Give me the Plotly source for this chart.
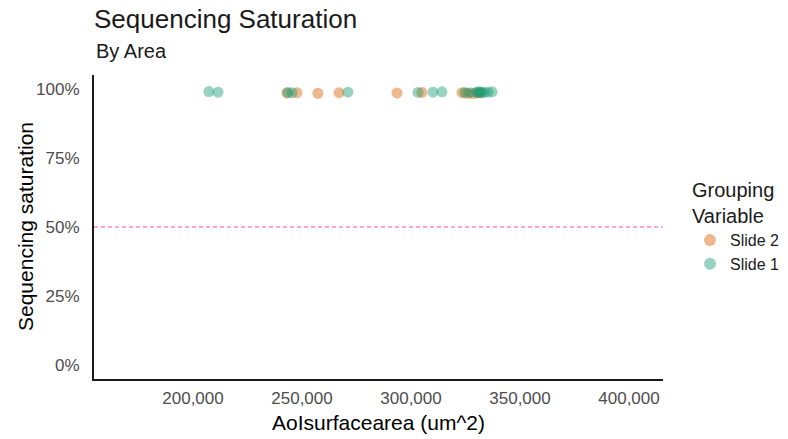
import plotly.graph_objects as go

# AOI surface area (um^2) and sequencing saturation per slide
slide2_area = [243100, 247700, 257300, 267000, 293600, 305000, 323400, 325700, 328400, 330500, 332000]
slide2_sat = [0.985, 0.986, 0.984, 0.986, 0.985, 0.987, 0.986, 0.984, 0.983, 0.985, 0.986]

slide1_area = [207300, 211500, 243500, 245400, 271100, 303200, 310100, 314200, 324700, 327100,
               330000, 331000, 331500, 332500, 333500, 335300, 337200]
slide1_sat = [0.990, 0.988, 0.987, 0.986, 0.988, 0.987, 0.988, 0.989, 0.987, 0.986,
              0.988, 0.987, 0.989, 0.986, 0.988, 0.988, 0.989]

threshold = 0.5
y_ticks = [0, 0.25, 0.5, 0.75, 1.0]
y_labels = ["0%", "25%", "50%", "75%", "100%"]
x_ticks = [200000, 250000, 300000, 350000, 400000]
x_labels = ["200,000", "250,000", "300,000", "350,000", "400,000"]

font = "Liberation Sans, Arial, sans-serif"

W, H = 788, 439
L, R, T, B = 94, 125, 75, 60
plot_w = W - L - R
plot_h = H - T - B

fig = go.Figure()
fig.add_trace(go.Scatter(
    x=slide2_area, y=slide2_sat, mode="markers", name="Slide 2",
    marker=dict(color="#D95F02", size=11, opacity=0.45, line=dict(width=0)),
))
fig.add_trace(go.Scatter(
    x=slide1_area, y=slide1_sat, mode="markers", name="Slide 1",
    marker=dict(color="#1B9E77", size=11, opacity=0.45, line=dict(width=0)),
))

fig.add_hline(y=threshold, line=dict(color="#FFA6D6", width=2, dash="4px,3px"))

fig.update_layout(
    width=W, height=H,
    margin=dict(l=L, r=R, t=T, b=B, autoexpand=False),
    paper_bgcolor="white", plot_bgcolor="white",
    font=dict(family=font, color="black"),
    title=dict(text="Sequencing Saturation", x=L / W, xanchor="left",
               y=1 - 19 / H, yanchor="middle", font=dict(size=26, color="#1a1a1a")),
    annotations=[
        dict(text="By Area", xref="paper", yref="paper", x=0, y=1 + (75 - 51) / plot_h,
             xanchor="left", yanchor="middle", showarrow=False,
             font=dict(size=20, color="#1a1a1a")),
        dict(text="Sequencing saturation", xref="paper", yref="paper",
             x=-(94 - 25) / plot_w, y=0.5, textangle=-90,
             xanchor="center", yanchor="middle", showarrow=False,
             font=dict(size=21, color="black")),
        dict(text="AoIsurfacearea (um^2)", xref="paper", yref="paper",
             x=0.5, y=-(422 - 379) / plot_h, xanchor="center", yanchor="middle",
             showarrow=False, font=dict(size=21, color="black")),
    ],
    legend=dict(
        title=dict(text="Grouping<br>Variable", font=dict(size=20, color="#1a1a1a")),
        x=(690 - 94) / plot_w, y=(379 - 171) / plot_h, xanchor="left", yanchor="top",
        font=dict(size=16, color="#1a1a1a"), itemsizing="constant",
        itemwidth=30, tracegroupgap=0,
    ),
)

fig.update_xaxes(
    range=[154600, 415600], tickvals=x_ticks, ticktext=x_labels,
    showgrid=False, zeroline=False, showline=True, linecolor="#1a1a1a", linewidth=2,
    ticks="", ticklabelstandoff=3, tickfont=dict(size=17, color="#4D4D4D"),
)
fig.update_yaxes(
    range=[-0.05, 1.05], tickvals=y_ticks, ticktext=y_labels,
    showgrid=False, zeroline=False, showline=True, linecolor="#1a1a1a", linewidth=2,
    ticks="", ticklabelstandoff=9, tickfont=dict(size=17, color="#4D4D4D"),
)

# drop the browser's default body margin so the figure fills the window exactly
fig.write_html("out.html", config={"displayModeBar": False},
               post_script="document.body.style.margin='0';")
